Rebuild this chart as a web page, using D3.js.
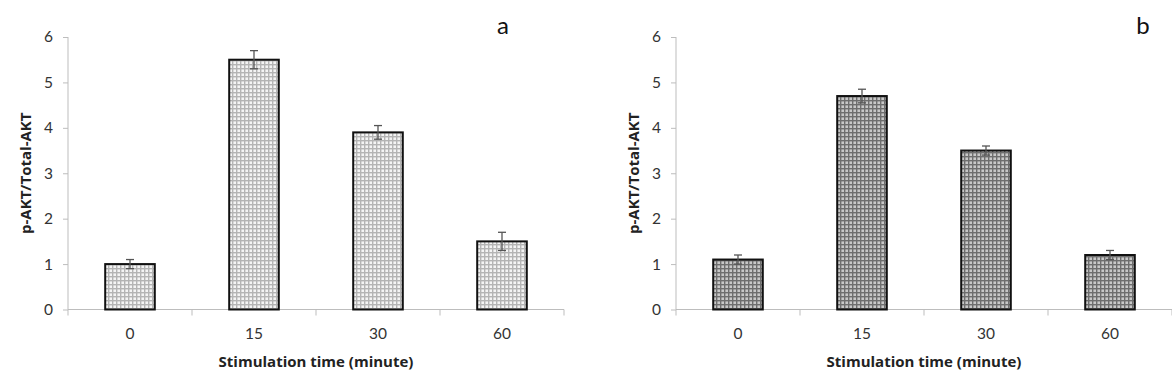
<!DOCTYPE html>
<html>
<head>
<meta charset="utf-8">
<script src="https://cdn.jsdelivr.net/npm/d3@7"></script>
<style>
  body { margin: 0; background: #fff; }
  text { font-family: Lato, "Open Sans", sans-serif; }
  .title { font-family: "Open Sans", sans-serif; }
</style>
</head>
<body>
<svg id="chart" width="1172" height="386"></svg>
<script>
// data
var times = ["0", "15", "30", "60"];
var valuesA = [1.0, 5.5, 3.9, 1.5];
var errorsA = [0.1, 0.2, 0.15, 0.2];
var valuesB = [1.1, 4.7, 3.5, 1.2];
var errorsB = [0.1, 0.15, 0.1, 0.1];
var yTicks = [0, 1, 2, 3, 4, 5, 6];

var svg = d3.select("#chart");
var defs = svg.append("defs");

// dotted fills, light for a, dark for b
function makePattern(id, bg, line) {
    var p = defs.append("pattern")
        .attr("id", id)
        .attr("patternUnits", "userSpaceOnUse")
        .attr("width", 4).attr("height", 4);
    p.append("rect").attr("width", 4).attr("height", 4).attr("fill", bg);
    p.append("rect").attr("x", 0).attr("y", 0).attr("width", 4).attr("height", 1.4).attr("fill", line);
    p.append("rect").attr("x", 0).attr("y", 0).attr("width", 1.4).attr("height", 4).attr("fill", line);
}
makePattern("dotsA", "#f4f4f4", "#b4b4b4");
makePattern("dotsB", "#c8c8c8", "#6e6e6e");

function panel(opts) {
    var g = svg.append("g").attr("transform", "translate(" + opts.left + ",0)");
    var top = 37, bottom = 309.5, width = 496;

    var x = d3.scaleBand().domain(times).range([0, width]).paddingInner(0.6).paddingOuter(0.3);
    var y = d3.scaleLinear().domain([0, 6]).range([bottom, top]);

    // y axis
    var yAxis = g.append("g")
        .call(d3.axisLeft(y).tickValues(yTicks).tickSize(5).tickPadding(10).tickFormat(d3.format("d")));
    yAxis.select(".domain").attr("stroke", "#bdbdbd").attr("d", "M0," + top + "V" + bottom);
    yAxis.selectAll(".tick line").attr("stroke", "#bdbdbd");
    yAxis.selectAll(".tick text").attr("font-size", 15.5).attr("fill", "#333");

    // x axis, ticks between categories
    var xg = g.append("g").attr("transform", "translate(0," + bottom + ")");
    xg.append("line").attr("x1", 0).attr("x2", width).attr("stroke", "#bdbdbd");
    var step = width / times.length;
    xg.selectAll(".sep").data(d3.range(times.length + 1)).join("line")
        .attr("x1", function(i) { return i * step; })
        .attr("x2", function(i) { return i * step; })
        .attr("y1", 0).attr("y2", 6).attr("stroke", "#bdbdbd");
    xg.selectAll(".lbl").data(times).join("text")
        .attr("x", function(d) { return x(d) + x.bandwidth() / 2; })
        .attr("y", 29)
        .attr("text-anchor", "middle")
        .attr("font-size", 15.5).attr("fill", "#333")
        .text(function(d) { return d; });

    // bars
    g.selectAll(".bar").data(opts.values).join("rect")
        .attr("x", function(d, i) { return x(times[i]); })
        .attr("y", function(d) { return y(d); })
        .attr("width", x.bandwidth())
        .attr("height", function(d) { return y(0) - y(d); })
        .attr("fill", "url(#" + opts.pattern + ")")
        .attr("stroke", "#111").attr("stroke-width", 2);

    // error bars
    var eb = g.selectAll(".err").data(opts.values).join("g")
        .attr("stroke", "#555").attr("stroke-width", 1.3);
    eb.append("line")
        .attr("x1", function(d, i) { return x(times[i]) + x.bandwidth() / 2; })
        .attr("x2", function(d, i) { return x(times[i]) + x.bandwidth() / 2; })
        .attr("y1", function(d, i) { return y(d + opts.errors[i]); })
        .attr("y2", function(d, i) { return y(d - opts.errors[i]); });
    [1, -1].forEach(function(s) {
        eb.append("line")
            .attr("x1", function(d, i) { return x(times[i]) + x.bandwidth() / 2 - 4; })
            .attr("x2", function(d, i) { return x(times[i]) + x.bandwidth() / 2 + 4; })
            .attr("y1", function(d, i) { return y(d + s * opts.errors[i]); })
            .attr("y2", function(d, i) { return y(d + s * opts.errors[i]); });
    });

    // titles
    g.append("text").attr("class", "title")
        .attr("x", width / 2).attr("y", 367)
        .attr("text-anchor", "middle")
        .attr("font-size", 15).attr("font-weight", "bold").attr("fill", "#222")
        .text("Stimulation time (minute)");
    g.append("text").attr("class", "title")
        .attr("transform", "translate(" + opts.yTitleX + "," + (top + bottom) / 2 + ") rotate(-90)")
        .attr("text-anchor", "middle")
        .attr("font-size", 15).attr("font-weight", "bold").attr("fill", "#222")
        .text("p-AKT/Total-AKT");
    g.append("text")
        .attr("x", opts.letterX).attr("y", 34)
        .attr("text-anchor", "middle")
        .attr("font-size", 24).attr("fill", "#111")
        .text(opts.letter);
}

panel({ left: 68, values: valuesA, errors: errorsA, pattern: "dotsA", letter: "a", letterX: 435, yTitleX: -37 });
panel({ left: 676, values: valuesB, errors: errorsB, pattern: "dotsB", letter: "b", letterX: 467, yTitleX: -37 });
</script>
</body>
</html>
